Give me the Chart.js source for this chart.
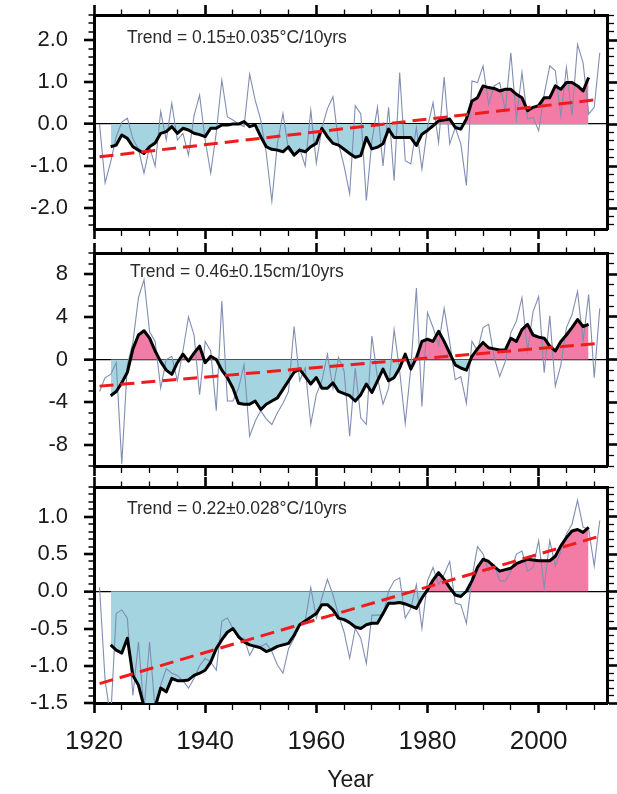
<!DOCTYPE html>
<html>
<head>
<meta charset="utf-8">
<script src="https://cdn.jsdelivr.net/npm/chart.js@4.4.1/dist/chart.umd.min.js"></script>
<style>
html,body{margin:0;padding:0;background:#fff;width:617px;height:794px;overflow:hidden;position:relative}
canvas{position:absolute;left:0}
</style>
</head>
<body>
<canvas id="c1" width="617" height="241" style="top:0px;width:617px;height:241px"></canvas>
<canvas id="c2" width="617" height="236" style="top:241px;width:617px;height:236px"></canvas>
<canvas id="c3" width="617" height="317" style="top:477px;width:617px;height:317px"></canvas>
<script>
// ---------------- DATA ----------------
const annualYears = Array.from({length: 91}, (_, i) => 1921 + i);   // 1921..2011
const smoothYears = Array.from({length: 87}, (_, i) => 1923 + i);   // 1923..2009 (running mean)
const trendYears = [1921, 2011];

const xTicks = [1920, 1940, 1960, 1980, 2000];
const xTickLabels = ['1920', '1940', '1960', '1980', '2000'];

// Panel 1 (°C)
const p1Annual = [
  0.0, -1.4, -0.9, -0.3, 0.05, 0.14, -0.35, -0.6, -1.17, -0.54,
  -1.0, 0.3, -0.38, 0.5, -0.38, -0.22, -0.74, 0.2, 0.69, -0.38,
  -1.17, -0.2, 1.05, 0.17, 0.1, 0.0, -0.06, 1.19, 0.57, 0.1,
  -0.7, -1.84, -0.46, 0.25, -0.62, -0.74, -0.58, -1.0, 0.33, -0.93,
  -0.1, 0.37, 0.65, -0.46, -1.0, -1.66, 0.44, 0.24, -1.82, -0.4,
  0.4, -1.0, 0.4, -1.35, 1.23, -0.87, -0.95, -0.08, -1.07, -0.08,
  0.51, -0.44, 1.12, -0.47, -0.08, -0.47, -1.46, 1.03, 0.99, 1.39,
  0.47, 0.91, 0.99, 0.32, 1.7, 0.12, 1.23, 0.12, 0.16, -0.16,
  0.71, 1.39, 1.27, 0.2, 1.35, 0.2, 1.9, 1.46, 0.24, 0.4,
  1.7
];
const p1Smooth = [
  -0.54, -0.5, -0.26, -0.34, -0.54, -0.62, -0.7, -0.54,
  -0.45, -0.22, -0.18, -0.06, -0.22, -0.1, -0.14, -0.22, -0.25, -0.3,
  -0.1, -0.1, -0.02, -0.02, 0.0, 0.0, 0.06, -0.06, -0.02, -0.3,
  -0.54, -0.6, -0.62, -0.66, -0.54, -0.74, -0.62, -0.66, -0.54, -0.46,
  -0.1, -0.3, -0.46, -0.5, -0.6, -0.7, -0.79, -0.75, -0.32, -0.59,
  -0.55, -0.47, -0.12, -0.32, -0.32, -0.32, -0.32, -0.51, -0.24, -0.15,
  -0.04, 0.08, 0.1, 0.12, -0.08, -0.12, 0.12, 0.55, 0.63, 0.91,
  0.87, 0.85, 0.79, 0.83, 0.83, 0.71, 0.63, 0.32, 0.4, 0.44,
  0.63, 0.63, 0.91, 0.83, 0.99, 0.99, 0.91, 0.79, 1.11
];
const p1Trend = [-0.78, 0.59];
const p1YTicks = [-2, -1, 0, 1, 2];
const p1YLabels = ['-2.0', '-1.0', '0.0', '1.0', '2.0'];

// Panel 2 (cm)
const p2Annual = [
  -3.0, -1.7, -1.4, -0.3, -9.8, -0.5, 1.6, 5.8, 7.5, 2.6,
  1.7, -2.7, 0.0, 0.3, -2.0, 0.8, 4.0, 2.3, -3.3, 1.7,
  0.8, -4.8, 5.5, -3.9, -3.9, -2.7, -0.5, -7.2, -5.8, -4.8,
  -5.6, -6.1, -5.0, -4.1, -3.0, 3.1, -2.0, -0.8, -6.1, -3.3,
  -2.0, 0.5, -2.7, 0.2, -1.1, -7.2, -0.8, -5.5, -6.1, 2.2,
  -1.7, -4.2, -2.7, 2.8, -1.1, -6.0, -0.8, 6.7, -4.4, 4.4,
  3.0, 1.4, 4.8, 1.6, -1.9, -1.6, -4.1, 1.7, 0.8, 3.0,
  3.3, 0.2, -1.6, -0.2, 2.5, 3.6, 5.8, 0.8, 4.5, 5.9,
  -1.25, 4.1, -2.5, -0.5, 3.0, 4.2, 6.4, 1.7, 6.1, -1.7,
  4.8
];
const p2Smooth = [
  -3.4, -3.0, -2.2, -1.2, 1.0, 2.3, 2.7, 2.0,
  0.8, -0.2, -1.0, -1.4, -0.3, 0.5, -0.15, 0.6, 1.25, -0.3,
  0.3, 0.0, -1.0, -1.7, -2.7, -4.1, -4.2, -4.2, -3.9, -4.7,
  -4.2, -3.9, -3.6, -2.8, -2.0, -1.2, -0.9, -1.6, -2.3, -1.7,
  -2.7, -2.7, -2.2, -3.0, -3.2, -3.4, -3.9, -3.3, -2.3, -3.1,
  -2.0, -0.9, -2.0, -1.7, -0.8, 0.5, -0.9, 0.15, 1.7, 1.9,
  1.7, 2.65, 1.7, 0.6, -0.5, -0.8, -1.0, 0.3, 1.0, 1.6,
  1.1, 1.0, 0.9, 0.9, 2.0, 1.7, 2.8, 3.3, 2.3, 2.1,
  2.0, 1.25, 0.8, 1.7, 2.3, 3.0, 3.75, 3.1, 3.3
];
const p2Trend = [-2.5, 1.52];
const p2YTicks = [-8, -4, 0, 4, 8];
const p2YLabels = ['-8', '-4', '0', '4', '8'];

// Panel 3 (°C)
const p3Annual = [
  0.05, -1.2, -1.7, -0.3, -0.25, -0.36, -1.4, -0.68, -1.6, -0.68,
  -1.6, -1.26, -1.04, -1.1, -1.13, -1.2, -1.3, -1.17, -1.0, -0.9,
  -0.95, -1.06, -0.4, -0.36, -0.5, -0.63, -0.63, -0.86, -0.72, -0.74,
  -0.7, -0.81, -0.99, -1.1, -0.77, -0.63, -0.45, -0.4, 0.05, -0.36,
  -0.09, 0.16, -0.05, -0.32, -0.55, -0.9, -0.5, -0.63, -0.97, -0.32,
  -0.32, -0.32, 0.0, 0.14, 0.18, -0.36, -0.23, 0.09, -0.5, 0.14,
  0.32, 0.09, 0.23, 0.4, -0.16, -0.18, -0.43, 0.18, 0.6, 0.5,
  0.27, 0.36, 0.14, 0.14, 0.27, 0.5, 0.54, 0.27, 0.32, 0.68,
  0.05, 0.68, 0.34, 0.54, 0.77, 0.9, 1.22, 0.86, 0.83, 0.34,
  0.95
];
const p3Smooth = [
  -0.72, -0.79, -0.83, -0.63, -1.13, -1.26, -1.55, -1.6,
  -1.55, -1.3, -1.35, -1.17, -1.2, -1.2, -1.19, -1.13, -1.1, -1.06,
  -0.95, -0.77, -0.65, -0.55, -0.5, -0.61, -0.68, -0.72, -0.74, -0.76,
  -0.81, -0.78, -0.74, -0.72, -0.7, -0.59, -0.45, -0.4, -0.35, -0.3,
  -0.18, -0.18, -0.25, -0.36, -0.38, -0.42, -0.48, -0.5, -0.45, -0.43,
  -0.43, -0.3, -0.16, -0.16, -0.15, -0.17, -0.2, -0.23, -0.09, 0.02,
  0.15, 0.25, 0.16, 0.05, -0.05, -0.07, 0.0, 0.14, 0.32, 0.43,
  0.4, 0.33, 0.27, 0.29, 0.31, 0.37, 0.4, 0.43, 0.42, 0.41,
  0.41, 0.41, 0.47, 0.61, 0.72, 0.81, 0.83, 0.79, 0.86
];
const p3Trend = [-1.24, 0.74];
const p3YTicks = [-1.5, -1.0, -0.5, 0, 0.5, 1.0];
const p3YLabels = ['-1.5', '-1.0', '-0.5', '0.0', '0.5', '1.0'];

const trendTexts = [
  'Trend = 0.15\u00B10.035\u00B0C/10yrs',
  'Trend = 0.46\u00B10.15cm/10yrs',
  'Trend = 0.22\u00B10.028\u00B0C/10yrs'
];

// ---------------- STYLE ----------------
const FONT = '"Liberation Sans", Arial, Helvetica, sans-serif';
Chart.defaults.font.family = FONT;
const PINK = 'rgb(243,124,166)';
const BLUE = 'rgb(163,212,224)';
const THIN = 'rgb(128,142,180)';
const RED = 'rgb(238,28,28)';
const INK = '#1a1a1a';

const trendTextPlugin = {
  id: 'trendText',
  afterDraw(chart, args, opts) {
    const {ctx, chartArea} = chart;
    ctx.save();
    ctx.font = '17.5px ' + FONT;
    ctx.fillStyle = '#2a2a2a';
    ctx.textBaseline = 'middle';
    ctx.textAlign = 'left';
    ctx.fillText(opts.text, chartArea.left + opts.dx, chartArea.top + opts.dy);
    ctx.restore();
  }
};

function near(list, v) { return list.some(t => Math.abs(t - v) < 1e-6); }

function fixBox(prop, val) {
  return s => {
    s[prop] = val;
    s.paddingTop = 0; s.paddingBottom = 0; s.paddingLeft = 0; s.paddingRight = 0;
  };
}

function makePanel(id, p) {
  const majX = v => near(xTicks, v);
  const majY = v => near(p.yTicks, v);
  const tW = maj => c => (c.tick && maj(c.tick.value)) ? 2.6 : 1.3;
  const tD = (maj, outerFirst) => c => (c.tick && maj(c.tick.value)) ? [] : (outerFirst ? [0, 4.5, 5, 100] : [5, 100]);
  const border = {display: true, color: '#000', width: 3};
  const TL = 10;

  const labelOf = (ticks, labels) => v => {
    const i = ticks.findIndex(t => Math.abs(t - v) < 1e-6);
    return i >= 0 ? labels[i] : '';
  };

  return new Chart(document.getElementById(id), {
    type: 'line',
    data: {
      datasets: [
        {
          data: trendYears.map((x, i) => ({x, y: p.trend[i]})),
          borderColor: RED, borderWidth: 3, borderDash: [14, 7],
          pointRadius: 0, fill: false, order: 0, clip: 0
        },
        {
          data: smoothYears.map((x, i) => ({x, y: p.smooth[i]})),
          borderColor: '#000', borderWidth: 3, pointRadius: 0,
          fill: {target: 'origin', above: PINK, below: BLUE},
          order: 1, clip: 0, borderJoinStyle: 'round'
        },
        {
          data: annualYears.map((x, i) => ({x, y: p.annual[i]})),
          borderColor: THIN, borderWidth: 1.1, pointRadius: 0,
          fill: false, order: 2, clip: 0
        }
      ]
    },
    options: {
      responsive: false,
      animation: false,
      devicePixelRatio: 1,
      events: [],
      layout: {padding: 0, autoPadding: false},
      plugins: {
        legend: {display: false},
        tooltip: {enabled: false},
        filler: {drawTime: 'beforeDatasetsDraw'},
        trendText: {text: p.text, dx: p.textDx, dy: p.textDy}
      },
      scales: {
        x: {
          type: 'linear', position: 'bottom', min: 1920, max: 2012.3,
          afterFit: fixBox('height', p.bottomH),
          border,
          grid: {drawOnChartArea: false, drawTicks: true, tickLength: TL, tickColor: '#000',
                 tickWidth: tW(majX), tickBorderDash: tD(majX, false)},
          ticks: {display: p.showX, stepSize: 5, autoSkip: false, includeBounds: false,
                  maxRotation: 0, minRotation: 0, padding: 13, color: INK,
                  font: {size: 26}, callback: labelOf(xTicks, xTickLabels)},
          title: {display: p.showX, text: 'Year', color: INK, font: {size: 23},
                  padding: {top: 0, bottom: 0}}
        },
        xTop: {
          type: 'linear', position: 'top', min: 1920, max: 2012.3,
          afterFit: fixBox('height', p.topH),
          border,
          grid: {drawOnChartArea: false, drawTicks: true, tickLength: TL, tickColor: '#000',
                 tickWidth: tW(majX), tickBorderDash: tD(majX, true)},
          ticks: {display: false, stepSize: 5, autoSkip: false, includeBounds: false}
        },
        y: {
          type: 'linear', position: 'left', min: p.min, max: p.max, z: 1,
          afterFit: fixBox('width', 94),
          border,
          grid: {drawOnChartArea: true, drawTicks: true, tickLength: TL, color: '#000', tickColor: '#000',
                 lineWidth: c => (c.tick && Math.abs(c.tick.value) < 1e-9) ? 1.3 : 0,
                 tickWidth: tW(majY), tickBorderDash: tD(majY, true)},
          ticks: {stepSize: p.step, autoSkip: false, includeBounds: false, padding: 16,
                  color: INK, font: {size: 22}, callback: labelOf(p.yTicks, p.yLabels)}
        },
        y2: {
          type: 'linear', position: 'right', min: p.min, max: p.max,
          afterFit: fixBox('width', 10),
          border,
          grid: {drawOnChartArea: false, drawTicks: true, tickLength: TL, tickColor: '#000',
                 tickWidth: tW(majY), tickBorderDash: tD(majY, false)},
          ticks: {display: false, stepSize: p.step, autoSkip: false, includeBounds: false}
        }
      }
    },
    plugins: [trendTextPlugin]
  });
}

makePanel('c1', {
  annual: p1Annual, smooth: p1Smooth, trend: p1Trend,
  min: -2.5, max: 2.6, step: 0.2, yTicks: p1YTicks, yLabels: p1YLabels,
  topH: 15, bottomH: 12, showX: false,
  text: trendTexts[0], textDx: 33, textDy: 23
});
makePanel('c2', {
  annual: p2Annual, smooth: p2Smooth, trend: p2Trend,
  min: -10, max: 10, step: 1, yTicks: p2YTicks, yLabels: p2YLabels,
  topH: 12, bottomH: 11, showX: false,
  text: trendTexts[1], textDx: 36, textDy: 19
});
makePanel('c3', {
  annual: p3Annual, smooth: p3Smooth, trend: p3Trend,
  min: -1.5, max: 1.4, step: 0.1, yTicks: p3YTicks, yLabels: p3YLabels,
  topH: 10, bottomH: 91, showX: true,
  text: trendTexts[2], textDx: 33, textDy: 22
});
</script>
</body>
</html>
